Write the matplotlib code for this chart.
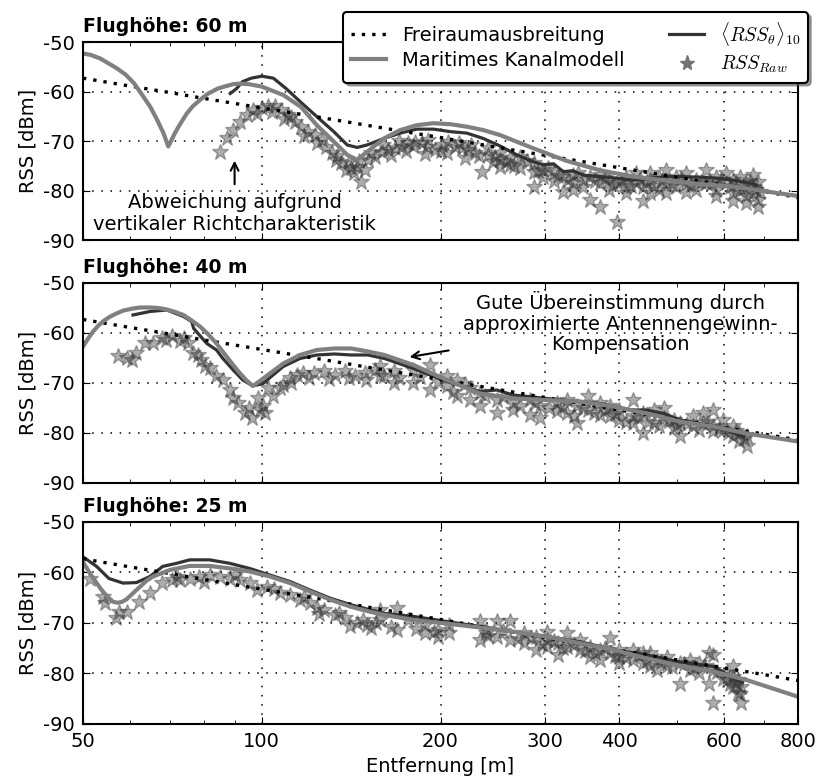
import matplotlib
matplotlib.use('Agg')
from matplotlib import pyplot as plt
from matplotlib.lines import Line2D
from matplotlib.ticker import FixedLocator, FixedFormatter, NullFormatter

# free-space propagation (same for all heights)
fs_dist = [50, 60, 70, 80, 100, 125, 150, 200, 250, 300, 400, 500, 600, 700, 800]
fs_rss = [-57.3, -58.9, -60.2, -61.4, -63.3, -65.2, -66.8, -69.3, -71.3, -72.9,
          -75.4, -77.3, -78.9, -80.2, -81.4]

# ---- height 60 m ----
mod60_d = [50, 51.5, 53.4, 55, 57, 59, 60.9, 62.5, 64.9, 66.5, 68.3, 69.6, 71.4, 72.5,
           74.8, 76.5, 78.7, 81, 84.3, 86.5, 89.6, 92, 95, 100,
           108.7, 116.4, 123.8, 132.2, 139.3, 144.8, 150.4, 160.5, 171, 182.4, 194.6,
           207.7, 221.5, 236.3, 252, 287, 326, 371, 423, 481, 547, 623, 708, 800]
mod60_rss = [-52.3, -52.6, -53.3, -54.2, -55.3, -56.6, -58.3, -60.2, -63.1, -65.5, -68.4,
             -71.1, -68.4, -67.0, -64.4, -63.0, -61.7, -60.5, -59.4, -59.0, -58.5, -58.4,
             -58.5, -59.0, -60.7, -63.1, -66.8, -70.1, -72.8, -73.8, -72.2, -69.5,
             -67.8, -66.8, -66.4, -66.6, -67.1, -67.8, -68.8, -71.5, -74.0, -75.9, -77.2,
             -78.0, -78.7, -79.2, -80.2, -81.1]
avg60_d = [88.5, 90.7, 92.8, 96, 100, 104.6, 109.9, 116.2, 123.9, 132.2, 139.3, 144.8,
           150.4, 160.5, 171, 182.4, 194.6, 207.7, 221.5, 236.3, 252, 269, 287, 298, 310,
           322, 334, 348, 371.5, 396, 422.7, 451, 481, 513, 547, 584, 622.6, 664, 681]
avg60_rss = [-60.4, -59.4, -58.0, -57.3, -56.9, -57.3, -59.4, -62.1, -65.1, -68.1, -70.8,
             -71.3, -70.8, -69.5, -68.4, -67.6, -67.6, -68.1, -68.4, -69.5, -71.0, -72.8,
             -74.2, -74.8, -74.6, -76.2, -76.0, -76.9, -77.2, -77.5, -77.9, -77.5, -77.2,
             -77.2, -77.3, -77.5, -77.9, -78.5, -78.9]
raw60_d = [85.0, 87.3, 89.6, 91.9, 94.3, 96.8, 100, 102.5, 105.2, 107.9, 110.8, 113.7,
           116.6, 119.7, 122.8, 126.1, 128.5, 131.1, 133.6, 136.2, 138.9, 141.6, 144.4,
           147.2, 149.1, 151.1, 155.1, 159.1, 163.3, 167.6, 172, 176.5, 181.1, 185.9,
           190.8, 195.8, 200.9, 206.2, 211.6, 217.2, 222.9, 228.7, 234.7, 240.9, 247.2,
           98, 104, 109, 112, 118, 124, 134, 140, 143, 146, 153, 160, 170, 180, 190, 200,
           215, 225, 240, 165, 175, 188, 205, 220, 232, 245,
           252, 252, 252, 262, 262, 272, 272, 287, 287, 287, 298, 298, 310, 310, 322, 322,
           334, 334, 334, 348, 348, 357, 357, 371, 371, 371, 385, 385, 396, 396, 411, 411,
           411, 427, 427, 439, 439, 450, 450, 450, 467, 467, 480, 480, 480, 499, 499, 518,
           518, 518, 539, 539, 560, 560, 583, 583, 583, 606, 606, 622, 622, 622, 638, 638,
           655, 655, 655, 672, 672, 672, 685, 685, 685,
           258, 266, 280, 292, 304, 316, 328, 341, 364, 378, 390, 403, 419, 433, 444, 458,
           473, 490, 508, 528, 549, 571, 594, 614, 630, 646, 663, 679, 690]
raw60_rss = [-72.2, -69.4, -67.8, -66.1, -64.7, -63.7, -63.4, -63.0, -63.0, -63.7, -64.7,
             -66.1, -67.1, -68.1, -68.8, -69.8, -71.2, -72.5, -73.9, -74.5, -75.9, -75.5,
             -75.2, -78.2, -75.9, -73.9, -73.2, -72.2, -71.9, -71.5, -71.2, -70.5, -70.2,
             -70.5, -69.8, -71.9, -70.9, -70.2, -71.2, -71.5, -71.9, -72.5, -76.2, -72.9,
             -73.2,
             -64.5, -64.2, -65.5, -65.2, -69.0, -70.5, -73.0, -74.2, -76.5, -74.0, -72.5,
             -70.8, -70.0, -71.0, -71.2, -72.0, -70.5, -70.8, -71.5, -72.8, -72.0, -72.6,
             -72.4, -73.5, -73.0, -74.3,
             -72.4, -73.9, -75.2, -73.5, -74.8, -73.2, -75.5, -79.2, -74.5, -76.2, -75.9,
             -77.2, -76.5, -78.0, -80.3, -77.2, -76.9, -78.5, -79.9, -77.9, -79.2, -81.9,
             -77.2, -83.3, -78.5, -76.9, -77.9, -79.9, -86.3, -78.5, -77.2, -79.2, -80.6,
             -78.5, -76.5, -82.2, -79.2, -77.9, -80.6, -76.5, -77.2, -79.9, -75.9, -78.5,
             -80.6, -77.2, -79.2, -76.5, -78.5, -80.3, -77.9, -79.9, -75.9, -78.5, -77.2,
             -79.9, -81.2, -76.5, -78.5, -77.9, -80.6, -82.2, -77.2, -79.9, -78.5, -81.2,
             -82.6, -76.9, -79.2, -80.6, -78.2, -81.9, -83.3,
             -74.2, -75.0, -74.0, -76.0, -75.5, -77.0, -77.8, -76.4, -78.0, -77.5, -78.8,
             -78.0, -79.0, -77.6, -78.4, -79.0, -78.0, -78.6, -77.7, -78.9, -78.2, -78.7,
             -77.8, -79.2, -78.4, -79.6, -78.0, -79.8, -80.4]

# ---- height 40 m ----
mod40_d = [50, 51, 52, 53, 54, 55.4, 56.9, 58.5, 60.7, 62.5, 64.8, 67, 69.2, 71.5, 73.8,
           76, 78.7, 81.3, 83.9, 86.7, 89.5, 91.8, 94.1, 96.6, 99,
           103.2, 108.7, 116, 123.8, 132.6, 141.4, 150.9, 160.9, 180, 204.8, 233, 265, 302,
           343.6, 391, 445, 506, 576, 656, 800]
mod40_rss = [-62.7, -61.1, -59.7, -58.6, -57.7, -56.8, -56.1, -55.5, -55.1, -54.9, -54.9,
             -55.0, -55.3, -55.8, -56.4, -57.4, -58.7, -60.3, -62.1, -64.3, -66.4, -68.0,
             -69.4, -70.6, -69.7, -68.1, -66.1, -64.4, -63.4, -63.1, -63.1, -63.7, -64.4,
             -66.4, -69.4, -72.1, -73.1, -73.4, -73.7, -74.7, -76.1, -77.7, -78.7, -80.1,
             -81.7]
avg40_d = [60.7, 64.8, 69.2, 73.8, 76.2, 76.8, 80.8, 83.9, 86, 89.5, 92.9, 96.6, 100.5,
           104.5, 108.7, 116, 123.8, 132.6, 141.4, 150.9, 160.9, 180, 204.8, 233, 248.6,
           265, 302, 322, 343.6, 366.5, 391, 417, 445, 474.7, 506, 540, 576, 615, 648]
avg40_rss = [-56.4, -55.7, -55.4, -56.7, -57.7, -59.1, -62.1, -63.4, -65.1, -67.4, -69.4,
             -70.6, -70.1, -68.4, -66.7, -65.1, -64.4, -64.2, -64.4, -64.4, -65.1, -67.1,
             -69.7, -71.7, -71.4, -72.4, -73.1, -73.4, -73.7, -74.0, -74.6, -75.4, -75.4,
             -76.1, -77.4, -78.0, -78.7, -79.7, -80.7]
raw40_d = [57.2, 59.2, 61.5, 63.7, 65.6, 68.0, 70.5, 72.7, 75.1, 76.6, 79.1, 80.2, 81.7,
           83.9, 86.0, 88.4, 89.5, 91.2, 93.6, 96.1, 98.6, 100.5, 101.2, 102.5, 104.5,
           107.3, 108.7, 111.6, 114.5, 117.5, 122.3, 127.2, 132.6, 137.9, 143.5, 149.3,
           155.4, 160.9,
           60.5, 69, 74, 78, 95, 99.5, 112, 120, 130, 140, 150,
           158, 158, 167, 167, 180, 180, 192, 192, 205, 205, 213, 213, 224, 224, 233, 233,
           249, 249, 265, 265, 283, 283, 294, 294, 314, 314, 326, 326, 340, 340, 355, 355,
           371, 371, 386, 386, 400, 400, 422, 422, 422, 439, 439, 457, 457, 475, 475, 494,
           494, 506, 506, 533, 533, 554, 554, 576, 576, 576, 599, 599, 622, 622, 637, 637,
           656, 656,
           170, 185, 198, 210, 220, 238, 255, 272, 288, 305, 320, 335, 348, 362, 378, 393,
           410, 430, 448, 466, 485, 500, 520, 545, 565, 588, 610, 630, 648]
raw40_rss = [-64.7, -65.1, -64.1, -62.1, -62.1, -61.1, -60.7, -61.7, -62.1, -64.1, -65.4,
             -66.7, -67.1, -68.7, -69.4, -71.4, -73.1, -74.1, -76.1, -77.1, -73.1, -74.7,
             -76.1, -71.1, -72.7, -71.1, -70.4, -69.1, -68.4, -68.1, -68.1, -67.7, -68.4,
             -67.7, -68.7, -68.1, -67.4, -68.7,
             -65.5, -61.5, -61.0, -64.5, -75.0, -75.5, -70.0, -69.0, -69.2, -69.0, -69.5,
             -66.7, -68.7, -70.1, -67.7, -67.4, -70.1, -66.4, -71.4, -68.7, -70.7, -72.7,
             -69.4, -71.1, -73.4, -72.1, -74.7, -73.4, -76.1, -75.4, -74.1, -73.4, -76.4,
             -77.1, -74.7, -74.1, -75.7, -73.4, -76.1, -78.1, -74.7, -72.7, -75.4, -74.1,
             -76.4, -74.7, -76.7, -75.4, -77.4, -73.4, -76.7, -78.1, -80.1, -76.1, -75.4,
             -78.1, -75.1, -77.1, -77.4, -79.1, -80.7, -78.1, -76.7, -78.7, -76.1, -78.1,
             -75.4, -78.7, -79.7, -77.4, -79.4, -78.7, -80.7, -80.1, -81.7, -80.7, -82.7,
             -69.0, -68.8, -69.8, -71.8, -70.2, -72.6, -72.8, -74.6, -74.0, -75.0, -74.8,
             -76.6, -75.0, -76.0, -75.5, -76.2, -77.8, -77.0, -77.8, -78.6, -77.6, -78.4,
             -78.2, -79.5, -77.8, -79.2, -80.0, -79.6, -81.2]

# ---- height 25 m ----
mod25_d = [50, 51.3, 52.7, 54, 55.3, 56.2, 57.2, 58.2, 59.2, 60.7, 62.4, 64, 65.6, 70,
           75.6, 81.7, 88.4, 95.4, 103.2, 111.6, 120.7, 130.5, 141.4, 152.4, 160.9, 180,
           204.8, 233, 265, 302, 343.6, 391, 445, 506, 576, 656, 800]
mod25_rss = [-57.9, -60.1, -62.1, -63.8, -65.1, -65.8, -66.0, -65.8, -65.3, -64.1, -62.8,
             -61.6, -60.8, -59.5, -58.7, -58.7, -59.2, -59.8, -60.8, -62.1, -63.8, -65.4,
             -66.8, -67.8, -68.4, -69.4, -70.1, -70.9, -71.7, -72.7, -74.0, -75.3, -77.0,
             -78.5, -79.6, -81.3, -84.6]
avg25_d = [50, 52.7, 55.3, 58.4, 61.5, 64.8, 68.1, 71.8, 75.6, 81.7, 88.4, 95.4, 103.2,
           111.6, 120.7, 130.5, 141.4, 152.4, 160.9, 180, 204.8, 233, 265, 302, 343.6, 391,
           445, 506, 576, 615, 645]
avg25_rss = [-56.9, -58.8, -61.2, -62.1, -62.0, -60.8, -58.8, -58.2, -57.5, -57.5, -58.2,
             -59.2, -60.5, -61.8, -63.5, -65.1, -66.4, -67.4, -68.1, -68.7, -69.7, -70.7,
             -71.7, -72.7, -73.7, -75.3, -76.3, -77.7, -78.6, -80.6, -81.8]
raw25_d = [51.3, 54.0, 54.4, 56.9, 57.5, 59.2, 62.2, 64.8, 67.8, 70.5, 72.7, 75.6, 78.5,
           81.7, 84.9, 88.4, 91.9, 95.4, 98, 101.9, 107.3, 111.6, 116, 120.7, 123.8, 127.2,
           132.6, 137.9, 144.9, 150.3, 156,
           72, 80, 90, 105, 118, 125, 135, 141, 148, 153,
           158, 158, 169, 169, 176, 188, 188, 198, 198, 207, 207, 233, 233, 239, 239, 249,
           249, 262, 262, 276, 276, 290, 290, 302, 302, 302, 316, 316, 326, 326, 344, 344,
           357, 357, 371, 371, 386, 386, 400, 400, 400, 422, 422, 439, 439, 451, 451, 463,
           463, 481, 481, 506, 506, 526, 526, 546, 546, 566, 566, 576, 576, 576, 607, 607,
           622, 622, 622, 634, 634, 642, 642,
           165, 182, 195, 240, 255, 270, 284, 296, 310, 322, 336, 350, 364, 378, 393, 410,
           430, 445, 470, 490, 515, 535, 556, 585, 598, 615, 628, 640]
raw25_rss = [-61.2, -64.8, -66.1, -69.1, -67.8, -67.8, -65.8, -64.1, -62.1, -61.5, -61.5,
             -61.2, -60.8, -60.5, -60.8, -61.2, -61.5, -62.1, -63.5, -62.8, -64.1, -64.5,
             -65.4, -66.1, -67.1, -67.4, -68.4, -69.1, -70.1, -70.4, -70.1,
             -60.8, -61.8, -60.5, -63.2, -64.8, -68.2, -68.0, -70.6, -69.5, -71.0,
             -67.4, -69.4, -67.1, -71.4, -69.4, -70.4, -72.0, -71.4, -72.7, -72.0, -70.4,
             -73.4, -69.7, -72.0, -71.4, -69.7, -72.7, -69.7, -73.4, -72.0, -74.0, -75.3,
             -72.7, -71.8, -73.4, -74.7, -76.3, -74.0, -72.0, -74.7, -73.4, -75.3, -74.7,
             -76.7, -75.3, -77.3, -73.0, -76.0, -78.0, -75.3, -76.7, -75.3, -77.3, -78.0,
             -76.0, -76.0, -78.6, -79.3, -77.3, -76.7, -78.6, -82.0, -78.0, -77.3, -79.3,
             -78.0, -80.0, -82.0, -76.0, -76.3, -85.9, -79.3, -80.0, -81.3, -80.6, -82.6,
             -78.6, -83.9, -81.3, -85.9, -82.6,
             -70.8, -71.2, -71.8, -72.6, -71.6, -73.2, -73.0, -74.2, -73.6, -75.0, -74.4,
             -75.6, -76.0, -75.0, -76.6, -77.0, -76.4, -77.6, -77.8, -78.8, -78.2, -79.0,
             -78.6, -79.8, -81.0, -82.0, -81.8, -84.0]

panels = [
    ('Flughöhe: 60 m', mod60_d, mod60_rss, avg60_d, avg60_rss, raw60_d, raw60_rss),
    ('Flughöhe: 40 m', mod40_d, mod40_rss, avg40_d, avg40_rss, raw40_d, raw40_rss),
    ('Flughöhe: 25 m', mod25_d, mod25_rss, avg25_d, avg25_rss, raw25_d, raw25_rss),
]

x_major = [50, 100, 200, 300, 400, 600, 800]
x_minor = [60, 70, 80, 90, 500, 700]


def main():
    plt.rcParams['font.family'] = 'DejaVu Sans'
    plt.rcParams['font.size'] = 14
    plt.rcParams['mathtext.fontset'] = 'cm'
    plt.rcParams['axes.unicode_minus'] = False
    plt.rcParams['xtick.direction'] = 'in'
    plt.rcParams['ytick.direction'] = 'in'
    plt.rcParams['xtick.top'] = True
    plt.rcParams['ytick.right'] = True
    plt.rcParams['xtick.major.size'] = 5
    plt.rcParams['ytick.major.size'] = 5
    plt.rcParams['xtick.minor.size'] = 3
    plt.rcParams['axes.linewidth'] = 1.5

    fig = plt.figure(figsize=(8.22, 7.8), dpi=100)
    boxes = [[0.101, 0.6923, 0.8698, 0.2538],
             [0.101, 0.3808, 0.8698, 0.2564],
             [0.101, 0.0718, 0.8698, 0.2590]]

    axes = []
    for box, (title, md, mr, ad, ar, rd, rr) in zip(boxes, panels):
        ax = fig.add_axes(box)
        ax.plot(rd, rr, linestyle='none', marker='*', markersize=12,
                color='0.2', alpha=0.4, markeredgewidth=1)
        ax.plot(ad, ar, color='0.2', lw=2.3)
        ax.plot(fs_dist, fs_rss, color='k', lw=2.4, dashes=(1, 2.1))
        ax.plot(md, mr, color='0.5', lw=3)
        ax.set_xscale('log')
        ax.set_xlim(50, 800)
        ax.set_ylim(-90, -50)
        ax.set_yticks([-90, -80, -70, -60, -50])
        ax.xaxis.set_major_locator(FixedLocator(x_major))
        ax.xaxis.set_minor_locator(FixedLocator(x_minor))
        ax.xaxis.set_minor_formatter(NullFormatter())
        ax.xaxis.set_major_formatter(FixedFormatter([str(v) for v in x_major]))
        ax.grid(True, which='major', color='k', linestyle=(0, (1, 5)), lw=1.1)
        ax.set_ylabel('RSS [dBm]')
        ax.set_title(title, loc='left', fontweight='bold', fontsize=13.5, pad=7)
        ax.tick_params(pad=6)
        axes.append(ax)

    axes[0].tick_params(labelbottom=False)
    axes[1].tick_params(labelbottom=False)
    axes[2].set_xlabel('Entfernung [m]')

    # annotations
    axes[0].annotate('', xy=(90, -73.4), xytext=(90, -79.3),
                     arrowprops=dict(arrowstyle='->', color='k', lw=1.5))
    axes[0].text(90, -84.6, 'Abweichung aufgrund\nvertikaler Richtcharakteristik',
                 ha='center', va='center', multialignment='center')
    axes[1].annotate('', xy=(175.5, -64.9), xytext=(208.6, -63.4),
                     arrowprops=dict(arrowstyle='->', color='k', lw=1.5))
    axes[1].text(402, -58.0,
                 'Gute Übereinstimmung durch\napproximierte Antennengewinn-\nKompensation',
                 ha='center', va='center', multialignment='center', linespacing=1.1)

    handles = [
        Line2D([], [], color='k', lw=2.4, dashes=(1, 2.1)),
        Line2D([], [], color='0.5', lw=3),
        Line2D([], [], color='0.2', lw=2.3),
        Line2D([], [], linestyle='none', marker='*', markersize=11, color='0.45'),
    ]
    labels = ['Freiraumausbreitung', 'Maritimes Kanalmodell',
              r'$\langle RSS_{\theta}\rangle_{10}$', r'$RSS_{Raw}$']
    leg = axes[0].legend(handles, labels, ncol=2, loc='upper right',
                         bbox_to_anchor=(808 / 822, 1 - 12 / 780),
                         bbox_transform=fig.transFigure, borderaxespad=0,
                         fontsize=14, fancybox=True, shadow=True, numpoints=1,
                         handlelength=1.8, handletextpad=0.8, columnspacing=2.3,
                         labelspacing=0.3, framealpha=1)
    leg.get_frame().set_edgecolor('k')
    leg.get_frame().set_linewidth(1.5)

    fig.savefig('out.png', dpi=100)


if __name__ == "__main__":
    main()
